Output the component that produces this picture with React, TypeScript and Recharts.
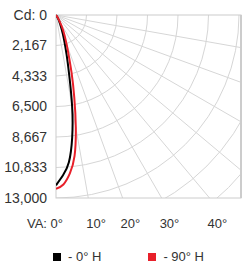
import { Customized, Legend, Line, LineChart, XAxis, YAxis, usePlotArea } from "recharts";

// vertical angles (deg) and candela readings for each horizontal plane
const VA_ANGLES = [0, 2.5, 5, 7.5, 10, 12.5, 15, 17.5, 20, 25, 30, 35, 40];
const CD_0H = [12100, 11400, 10500, 8800, 6600, 4300, 2900, 2000, 1400, 700, 300, 100, 0];
const CD_90H = [12350, 12050, 11300, 10100, 8100, 6000, 4300, 3000, 2200, 1200, 500, 150, 0];

const CD_TICKS = [0, 2167, 4333, 6500, 8667, 10833, 13000];
const VA_TICKS = [0, 10, 20, 30, 40];
const GRID_ANGLES = [10, 20, 30, 40, 50, 60, 70, 80];
const RING_COUNT = 8;
const CD_MAX = 13000;

const W = 243;
const H = 263;
const PLOT_W = 185;
const PLOT_H = 183;
const X_MAX = (CD_MAX * PLOT_W) / PLOT_H;

const rad = (d: number) => (d * Math.PI) / 180;
const toXY = (cd: number[]) =>
  VA_ANGLES.map((a, i) => ({ x: cd[i] * Math.sin(rad(a)), y: cd[i] * Math.cos(rad(a)) }));

const series = [
  { name: "0° H", color: "#000000", data: toXY(CD_0H) },
  { name: "90° H", color: "#e8202a", data: toXY(CD_90H) },
];

function QuarterPolarGrid() {
  const plot = usePlotArea();
  if (!plot) return null;
  const { x, y, width, height } = plot;
  const k = height / CD_MAX;
  const step = CD_MAX / 6;
  return (
    <g>
      <defs>
        <clipPath id="plotClip">
          <rect x={x} y={y} width={width} height={height} />
        </clipPath>
      </defs>
      <g clipPath="url(#plotClip)" stroke="#d6d6d6" fill="none">
        {Array.from({ length: RING_COUNT }, (_, i) => (
          <circle key={i} cx={x} cy={y} r={(i + 1) * step * k} />
        ))}
        {GRID_ANGLES.map((a) => (
          <line key={a} x1={x} y1={y} x2={x + 400 * Math.sin(rad(a))} y2={y + 400 * Math.cos(rad(a))} />
        ))}
      </g>
      <rect x={x} y={y} width={width} height={height} fill="none" stroke="#cccccc" />
      <line x1={x + width} y1={y} x2={x + width} y2={y + height} stroke="#cccccc" strokeWidth={2} />
    </g>
  );
}

function VaTick({ x, y, index }: any) {
  const first = index === 0;
  return (
    <text
      x={x}
      y={y}
      dx={first ? 7 : -2}
      dy={22}
      textAnchor={first ? "end" : "start"}
      fontSize={13}
      fill="#333"
    >
      {first ? "VA: 0°" : `${VA_TICKS[index]}°`}
    </text>
  );
}

function LegendContent() {
  return (
    <div style={{ display: "flex", gap: 47, paddingLeft: 53, fontSize: 13, color: "#333", lineHeight: "15px" }}>
      {series.map((s) => (
        <div key={s.name} style={{ display: "flex", alignItems: "center" }}>
          <span style={{ width: 8, height: 8, background: s.color, marginRight: 7, display: "inline-block" }} />
          <span>- {s.name}</span>
        </div>
      ))}
    </div>
  );
}

export default function App() {
  return (
    <div style={{ position: "absolute", left: 0, top: 0, width: W, height: H, fontFamily: "Arial, 'Liberation Sans', sans-serif" }}>
      <LineChart width={W} height={H} margin={{ top: 15, right: 2, left: 0, bottom: 0 }}>
        <Customized component={<QuarterPolarGrid />} />
        <XAxis
          type="number"
          dataKey="x"
          domain={[0, X_MAX]}
          ticks={VA_TICKS.map((a) => CD_MAX * Math.tan(rad(a)))}
          interval={0}
          height={65}
          axisLine={false}
          tickLine={false}
          allowDataOverflow
          tick={<VaTick />}
        />
        <YAxis
          type="number"
          dataKey="y"
          domain={[0, CD_MAX]}
          reversed
          ticks={CD_TICKS}
          interval={0}
          width={56}
          axisLine={false}
          tickLine={false}
          tickMargin={3}
          tick={{ fontSize: 14, fill: "#333" }}
          tickFormatter={(v: number) => (v === 0 ? "Cd: 0" : v.toLocaleString("en-US"))}
        />
        {series.map((s) => (
          <Line
            key={s.name}
            data={s.data}
            dataKey="y"
            name={s.name}
            type="natural"
            stroke={s.color}
            strokeWidth={2}
            dot={false}
            isAnimationActive={false}
          />
        ))}
        <Legend
          verticalAlign="middle"
          content={<LegendContent />}
          wrapperStyle={{ left: 0, top: 249, width: W, bottom: "auto" }}
        />
      </LineChart>
    </div>
  );
}
